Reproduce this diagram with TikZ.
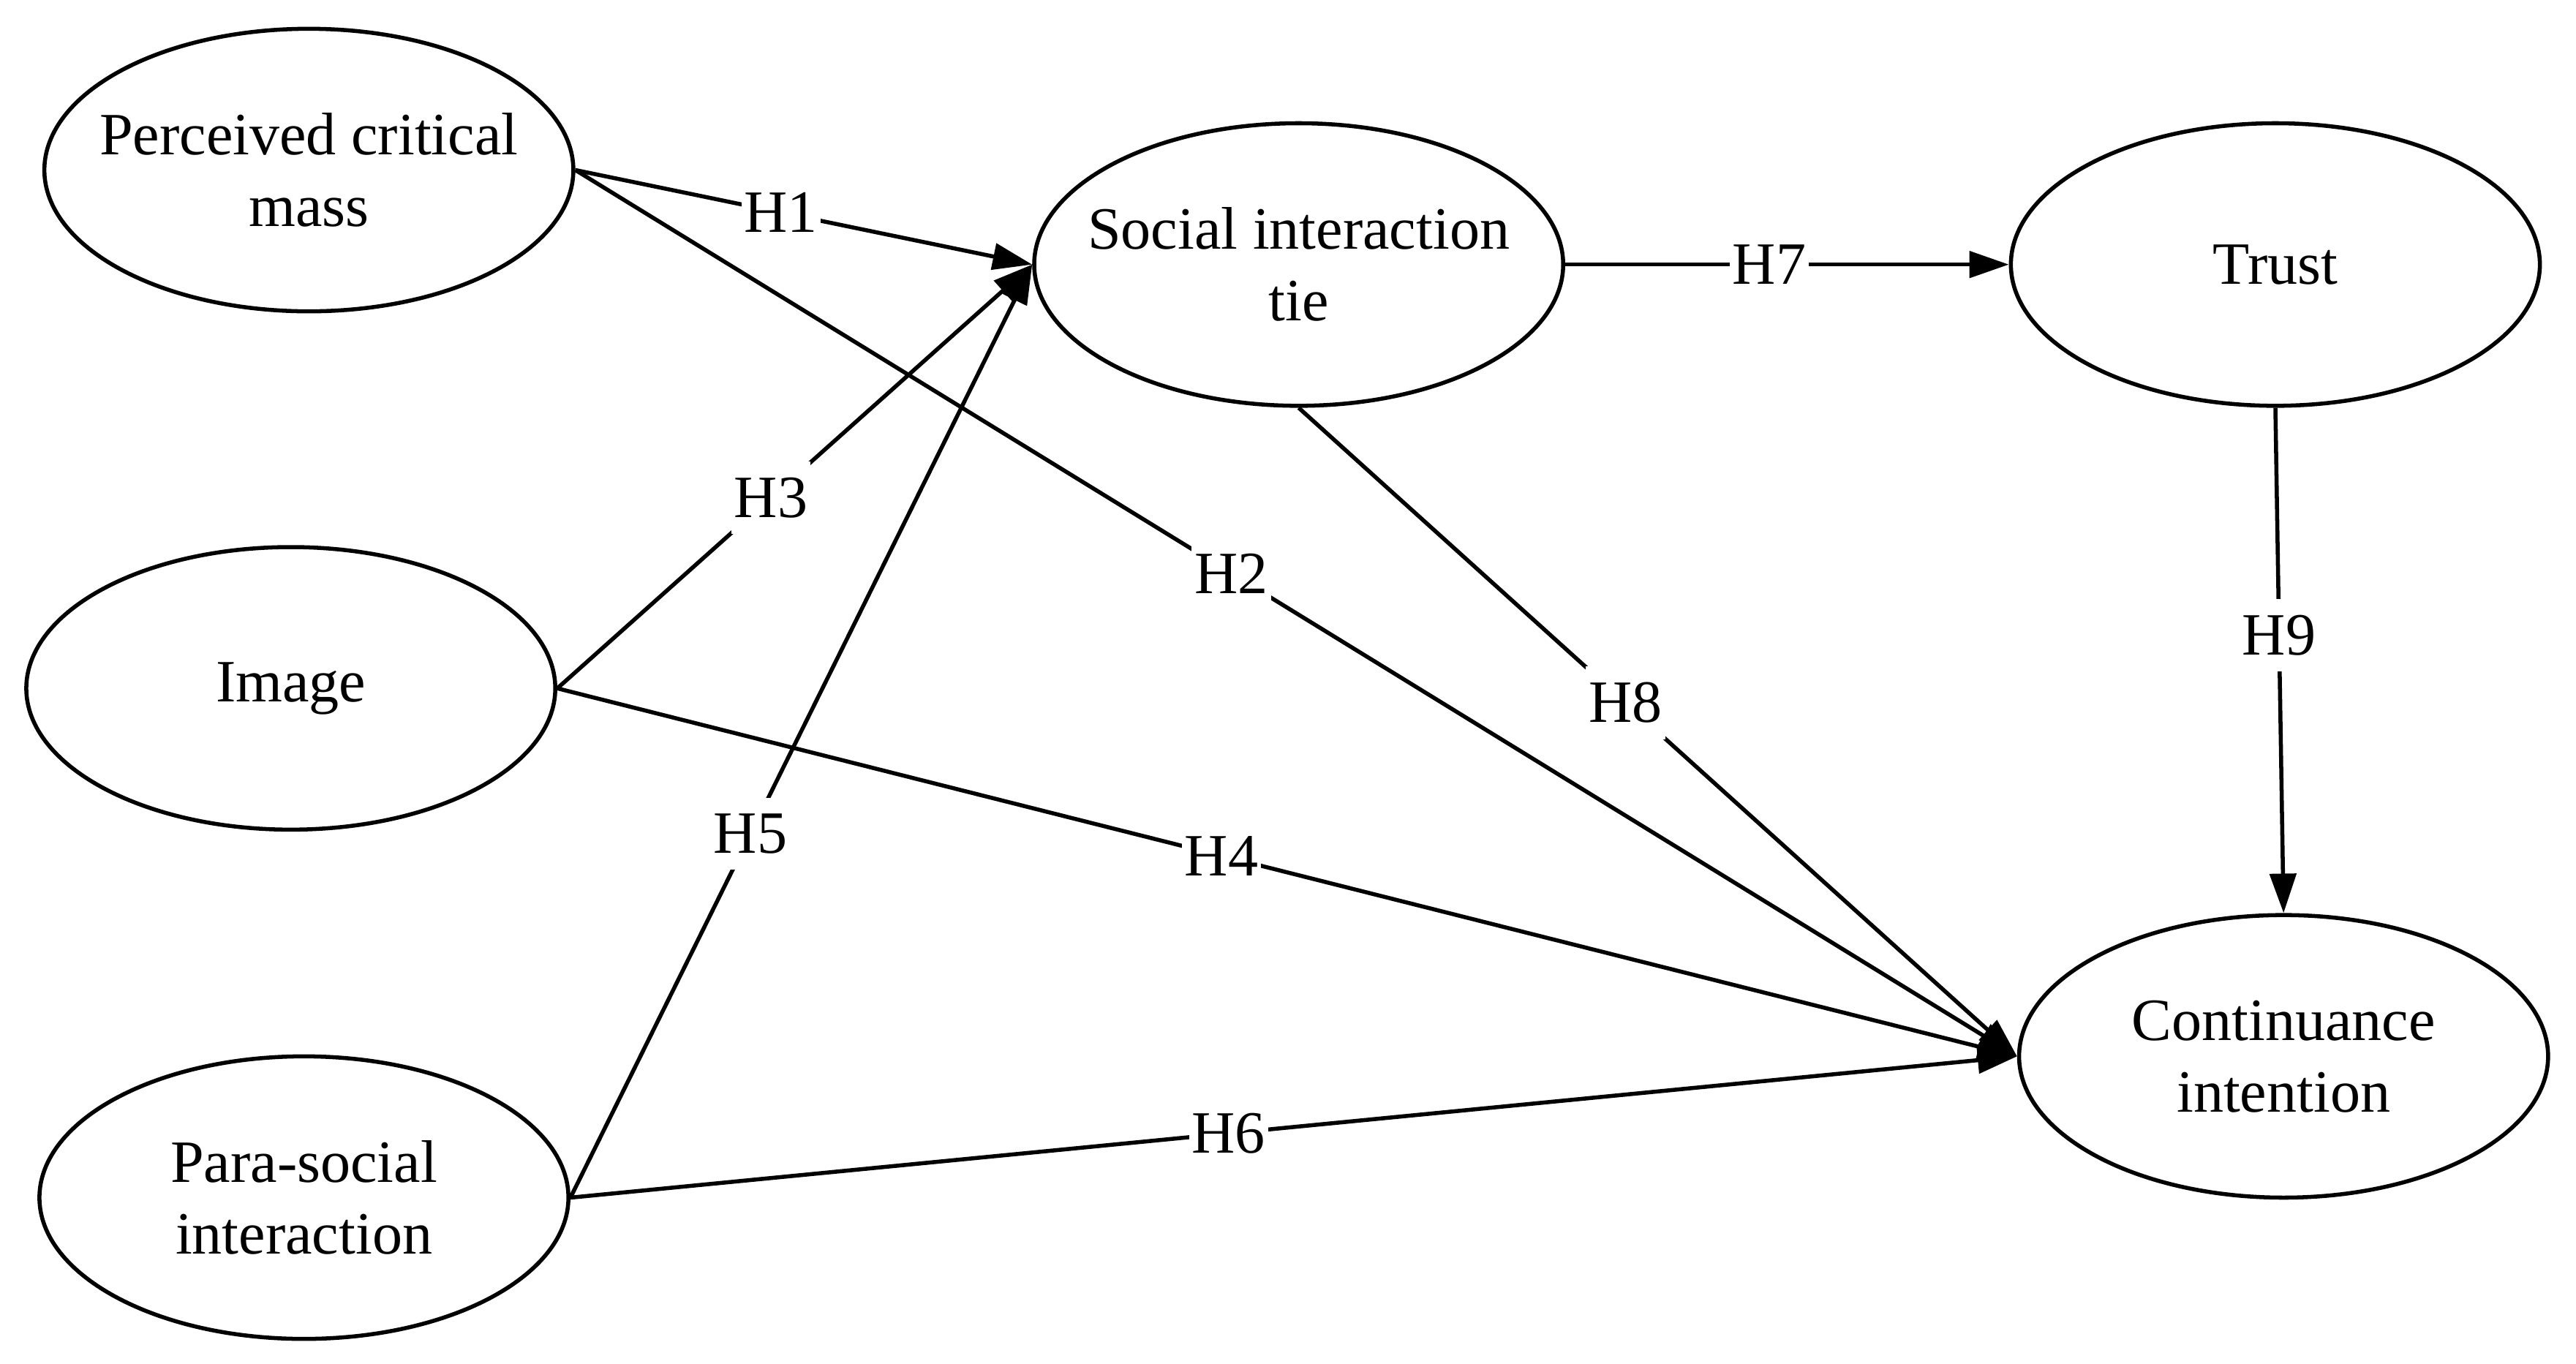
\documentclass[tikz,border=0pt]{standalone}
\usepackage{fontspec}
\setmainfont{Liberation Serif}
\usetikzlibrary{shapes.geometric, arrows.meta}

\begin{document}
\begin{tikzpicture}[>={Triangle[length=2.4mm,width=1.6mm]}, font=\fontsize{10.4}{12.4}\selectfont]

\tikzstyle{construct} = [draw, shape=ellipse, minimum width=3.22cm, minimum height=1.72cm, inner xsep=-0.5cm, inner ysep=0pt, align=center, line width=0.7pt]
\tikzstyle{hyp} = [fill=white, inner xsep=0.5pt, inner ysep=2.8pt, pos=0.455]

\useasboundingbox (0,0) rectangle (15.68,-8.30);

\node[construct] at (1.88,-1.035) (pcm) {Perceived critical\\mass};
\node[construct] at (1.77,-4.19) (img) {Image};
\node[construct] at (1.85,-7.29) (psi) {Para-social\\interaction};
\node[construct] at (7.905,-1.61) (sit) {Social interaction\\tie};
\node[construct] at (13.85,-1.61) (trust) {Trust};
\node[construct] at (13.90,-6.43) (ci) {Continuance\\intention};

\begin{scope}[line width=0.7pt]
     \draw[->] (pcm.east) -- node[hyp, pos=0.45] {H1} (sit.west);
     \draw[->] (pcm.east) -- node[hyp] {H2} (ci.west);
     \draw[->] (img.east) -- node[hyp, pos=0.45] {H3} (sit.west);
     \draw[->] (img.east) -- node[hyp] {H4} (ci.west);
     \draw[->] (psi.east) -- node[hyp, pos=0.39] {H5} (sit.west);
     \draw[->] (psi.east) -- node[hyp] {H6} (ci.west);
     \draw[->] (sit.east) -- node[hyp, pos=0.46] {H7} (trust.west);
     \draw[->] (sit.south) -- node[hyp] {H8} (ci.west);
     \draw[->] (trust.south) -- node[hyp, pos=0.45] {H9} (ci.north);
\end{scope}
\end{tikzpicture}
\end{document}
